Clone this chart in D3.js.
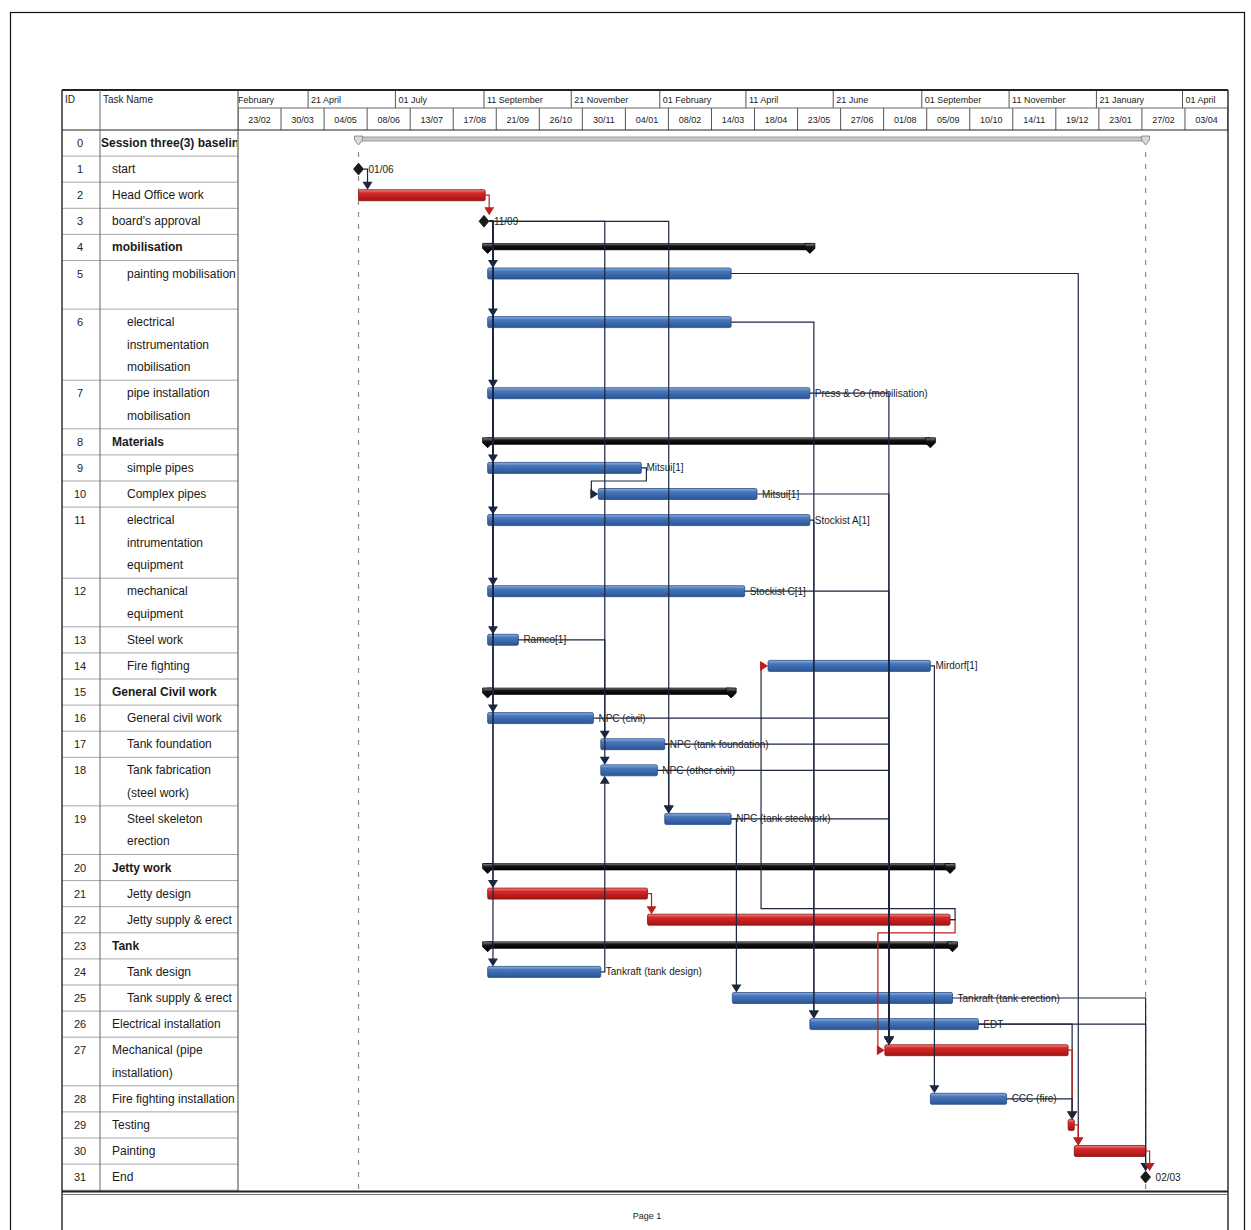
<!DOCTYPE html>
<html>
<head>
<meta charset="utf-8">
<title>Session three(3) baseline – Gantt</title>
<script src="https://cdnjs.cloudflare.com/ajax/libs/d3/7.8.5/d3.min.js"></script>
<style>
  html, body { margin: 0; padding: 0; background: #fff; }
  svg { display: block; font-family: "Liberation Sans", Arial, sans-serif; }
</style>
</head>
<body>
<svg id="chart" width="1251" height="1230"></svg>
<script>
// ---------- schedule data ----------
const taskNames = [
  ["Session three(3)  baseline"],
  ["start"],
  ["Head Office work"],
  ["board's approval"],
  ["mobilisation"],
  ["painting mobilisation", ""],
  ["electrical", "instrumentation", "mobilisation"],
  ["pipe installation", "mobilisation"],
  ["Materials"],
  ["simple pipes"],
  ["Complex pipes"],
  ["electrical", "intrumentation", "equipment"],
  ["mechanical", "equipment"],
  ["Steel work"],
  ["Fire fighting"],
  ["General Civil work"],
  ["General civil work"],
  ["Tank foundation"],
  ["Tank fabrication", "(steel work)"],
  ["Steel skeleton", "erection"],
  ["Jetty work"],
  ["Jetty design"],
  ["Jetty supply & erect"],
  ["Tank"],
  ["Tank design"],
  ["Tank supply & erect"],
  ["Electrical installation"],
  ["Mechanical (pipe", "installation)"],
  ["Fire fighting installation"],
  ["Testing"],
  ["Painting"],
  ["End"]
];

const taskLevels = [0,1,1,1,1,2,2,2,1,2,2,2,2,2,2,1,2,2,2,2,1,2,2,1,2,2,1,1,1,1,1,1];

const taskTypes = [
  "project","milestone","task","milestone","summary","task","task","task",
  "summary","task","task","task","task","task","task",
  "summary","task","task","task","task",
  "summary","task","task",
  "summary","task","task",
  "task","task","task","task","task","milestone"
];

const taskCritical = [
  false,false,true,false,false,false,false,false,
  false,false,false,false,false,false,false,
  false,false,false,false,false,
  false,true,true,
  false,false,false,
  false,true,false,true,true,false
];

const taskStart = [
  "2015-06-01","2015-06-01","2015-06-01","2015-09-11","2015-09-14","2015-09-14","2015-09-14","2015-09-14",
  "2015-09-14","2015-09-14","2015-12-13","2015-09-14","2015-09-14","2015-09-14","2016-04-29",
  "2015-09-14","2015-09-14","2015-12-15","2015-12-15","2016-02-05",
  "2015-09-14","2015-09-14","2016-01-22",
  "2015-09-14","2015-09-14","2016-03-31",
  "2016-06-02","2016-08-02","2016-09-08","2016-12-29","2017-01-03","2017-03-02"
];

const taskEnd = [
  "2017-03-02","2015-06-01","2015-09-12","2015-09-11","2016-06-02","2016-03-30","2016-03-30","2016-06-02",
  "2016-09-08","2016-01-17","2016-04-20","2016-06-02","2016-04-10","2015-10-09","2016-09-08",
  "2016-03-30","2015-12-09","2016-02-05","2016-01-30","2016-03-30",
  "2016-09-24","2016-01-22","2016-09-24",
  "2016-09-26","2015-12-15","2016-09-26",
  "2016-10-17","2016-12-29","2016-11-09","2017-01-03","2017-03-02","2017-03-02"
];

const resourceLabels = [
  "","","","","","","","Press & Co (mobilisation)",
  "","Mitsui[1]","Mitsui[1]","Stockist A[1]","Stockist C[1]","Ramco[1]","Mirdorf[1]",
  "","NPC (civil)","NPC (tank foundation)","NPC (other civil)","NPC (tank steelwork)",
  "","","",
  "","Tankraft (tank design)","Tankraft (tank erection)",
  "EDT","","CCC (fire)","","",""
];

// predecessor, successor, critical path flag
const links = [
  [1,2,0],[2,3,1],
  [3,5,0],[3,6,0],[3,7,0],[3,9,0],[3,11,0],[3,12,0],[3,13,0],[3,16,0],[3,17,0],[3,19,0],[3,21,0],[3,24,0],
  [9,10,0],[13,18,0],[17,19,0],[24,18,0],[19,25,0],
  [21,22,1],[22,27,1],[22,14,0],
  [5,30,0],[6,26,0],[11,26,0],
  [7,27,0],[10,27,0],[12,27,0],[16,27,0],[17,27,0],[18,27,0],[19,27,0],
  [14,28,0],[26,29,0],[27,29,1],[28,29,0],[29,30,1],
  [25,31,0],[26,31,0],[30,31,1]
];

// timescale tiers
const topTierDates = [
  "2015-02-11","2015-04-21","2015-07-01","2015-09-11","2015-11-21","2016-02-01",
  "2016-04-11","2016-06-21","2016-09-01","2016-11-11","2017-01-21","2017-04-01","2017-06-11"
];
const bottomTierDates = [
  "2015-02-23","2015-03-30","2015-05-04","2015-06-08","2015-07-13","2015-08-17","2015-09-21",
  "2015-10-26","2015-11-30","2016-01-04","2016-02-08","2016-03-14","2016-04-18","2016-05-23",
  "2016-06-27","2016-08-01","2016-09-05","2016-10-10","2016-11-14","2016-12-19","2017-01-23",
  "2017-02-27","2017-04-03"
];
const timescaleEnd = "2017-05-08";
const pageLabel = "Page 1";

// ---------- layout ----------
const G = {
  left: 62, idRight: 100, nameRight: 238, right: 1228,
  top: 90, tierSplit: 108, headBottom: 130, bodyBottom: 1191, pageBottom: 1230
};
const ROW_H = 26.1, LINE_H = 22.5;

const parse = d3.timeParse("%Y-%m-%d");
const fmtDayMonth = d3.timeFormat("%d/%m");
const fmtTopTier = d3.timeFormat("%d %B");

const x = d3.scaleTime()
  .domain([parse(bottomTierDates[0]), parse(timescaleEnd)])
  .range([G.nameRight, G.right]);

let acc = G.headBottom;
const rows = taskNames.map((lines, i) => {
  const h = ROW_H + (lines.length - 1) * LINE_H;
  const r = { i, top: acc, h, cy: acc + 13, lines };
  acc += h;
  return r;
});

const svg = d3.select("#chart");
const defs = svg.append("defs");

function grad(id, stops) {
  const g = defs.append("linearGradient").attr("id", id)
    .attr("x1", 0).attr("y1", 0).attr("x2", 0).attr("y2", 1);
  stops.forEach(([o, c]) => g.append("stop").attr("offset", o).attr("stop-color", c));
}
grad("gBlue", [[0, "#8fb2e0"], [0.3, "#4777bb"], [1, "#2a5595"]]);
grad("gRed", [[0, "#ef8d8d"], [0.3, "#d62828"], [1, "#a31414"]]);
grad("gSum", [[0, "#8a8a8a"], [0.35, "#151515"], [1, "#000"]]);

defs.append("clipPath").attr("id", "clipScale")
  .append("rect").attr("x", G.nameRight).attr("y", G.top).attr("width", G.right - G.nameRight).attr("height", G.headBottom - G.top);
defs.append("clipPath").attr("id", "clipName")
  .append("rect").attr("x", G.idRight).attr("y", G.headBottom).attr("width", G.nameRight - G.idRight - 1).attr("height", G.bodyBottom - G.headBottom);

// page frame
svg.append("rect").attr("x", 10.5).attr("y", 12.5).attr("width", 1234).attr("height", 1240)
  .attr("fill", "none").attr("stroke", "#111").attr("stroke-width", 1.2);

// ---------- left table ----------
const table = svg.append("g");
table.selectAll("line.rowsep").data(rows).join("line")
  .attr("class", "rowsep")
  .attr("x1", G.left).attr("x2", G.nameRight)
  .attr("y1", d => d.top + d.h).attr("y2", d => d.top + d.h)
  .attr("stroke", "#a5a5a5").attr("stroke-width", 1);

table.selectAll("text.id").data(rows).join("text")
  .attr("class", "id")
  .attr("x", (G.left + G.idRight) / 2 - 1).attr("y", d => d.cy)
  .attr("text-anchor", "middle").attr("dominant-baseline", "central")
  .attr("font-size", 11).attr("fill", "#222")
  .text(d => d.i);

const nameG = table.append("g").attr("clip-path", "url(#clipName)");
rows.forEach(r => {
  const lvl = taskLevels[r.i];
  const t = taskTypes[r.i];
  const bold = t === "summary" || t === "project";
  const tx = lvl === 0 ? 101 : lvl === 1 ? 112 : 127;
  r.lines.forEach((ln, k) => {
    if (!ln) return;
    nameG.append("text")
      .attr("x", tx).attr("y", r.cy + k * LINE_H)
      .attr("dominant-baseline", "central")
      .attr("font-size", lvl === 0 ? 12 : 12)
      .attr("font-weight", bold ? "bold" : "normal")
      .attr("fill", "#1a1a1a")
      .text(ln);
  });
});

// ---------- timescale header ----------
const head = svg.append("g");
head.append("text").attr("x", 65).attr("y", 103).attr("font-size", 10).attr("fill", "#222").text("ID");
head.append("text").attr("x", 103).attr("y", 103).attr("font-size", 10).attr("fill", "#222").text("Task Name");

const scaleG = head.append("g").attr("clip-path", "url(#clipScale)");
const topDates = topTierDates.map(parse);
scaleG.selectAll("line.tt").data(topDates).join("line")
  .attr("x1", d => x(d)).attr("x2", d => x(d))
  .attr("y1", G.top).attr("y2", G.tierSplit)
  .attr("stroke", "#555");
scaleG.selectAll("text.tt").data(topDates.slice(0, -1)).join("text")
  .attr("x", d => x(d) + 3).attr("y", 103)
  .attr("font-size", 9).attr("fill", "#222")
  .text(d => fmtTopTier(d));

const botDates = bottomTierDates.map(parse).concat([parse(timescaleEnd)]);
scaleG.selectAll("line.bt").data(botDates).join("line")
  .attr("x1", d => x(d)).attr("x2", d => x(d))
  .attr("y1", G.tierSplit).attr("y2", G.headBottom)
  .attr("stroke", "#555");
scaleG.selectAll("text.bt").data(botDates.slice(0, -1)).join("text")
  .attr("x", (d, i) => (x(d) + x(botDates[i + 1])) / 2).attr("y", 123)
  .attr("text-anchor", "middle")
  .attr("font-size", 9).attr("fill", "#222")
  .text(d => fmtDayMonth(d));

// frame lines
const frame = svg.append("g").attr("stroke", "#222").attr("fill", "none");
frame.append("line").attr("x1", G.left).attr("x2", G.right).attr("y1", G.top).attr("y2", G.top).attr("stroke-width", 2);
frame.append("line").attr("x1", G.left).attr("x2", G.right).attr("y1", G.headBottom).attr("y2", G.headBottom);
frame.append("line").attr("x1", G.nameRight).attr("x2", G.right).attr("y1", G.tierSplit).attr("y2", G.tierSplit).attr("stroke", "#666");
frame.append("line").attr("x1", G.left).attr("x2", G.left).attr("y1", G.top).attr("y2", G.pageBottom).attr("stroke-width", 1.4);
frame.append("line").attr("x1", G.right).attr("x2", G.right).attr("y1", G.top).attr("y2", G.pageBottom).attr("stroke-width", 1.4);
frame.append("line").attr("x1", G.idRight).attr("x2", G.idRight).attr("y1", G.top).attr("y2", G.bodyBottom).attr("stroke", "#666");
frame.append("line").attr("x1", G.nameRight).attr("x2", G.nameRight).attr("y1", G.top).attr("y2", G.bodyBottom).attr("stroke", "#444");
frame.append("line").attr("x1", G.left).attr("x2", G.right).attr("y1", G.bodyBottom + 0.5).attr("y2", G.bodyBottom + 0.5).attr("stroke-width", 2);
frame.append("line").attr("x1", G.left).attr("x2", G.right).attr("y1", G.bodyBottom + 3.5).attr("y2", G.bodyBottom + 3.5).attr("stroke", "#777");

svg.append("text").attr("x", (G.left + G.right) / 2 + 2).attr("y", 1219)
  .attr("text-anchor", "middle").attr("font-size", 9).attr("fill", "#222").text(pageLabel);

// ---------- chart body ----------
const body = svg.append("g");
const projStart = parse(taskStart[0]), projEnd = parse(taskEnd[0]);

// project start / finish guides
body.selectAll("line.guide").data([projStart, projEnd]).join("line")
  .attr("x1", d => x(d)).attr("x2", d => x(d))
  .attr("y1", rows[0].top + rows[0].h - 4).attr("y2", G.bodyBottom)
  .attr("stroke", "#8a8a8a").attr("stroke-width", 1.2).attr("stroke-dasharray", "5,7");

function startX(i) { const v = x(parse(taskStart[i])); return taskTypes[i] === "milestone" ? v - 4 : v; }
function endX(i) { const v = x(parse(taskEnd[i])); return taskTypes[i] === "milestone" ? v + 5 : v; }
function topY(i) { const t = taskTypes[i]; return rows[i].cy - (t === "milestone" ? 6 : t === "summary" ? 4 : 5.5); }
function botY(i) { const t = taskTypes[i]; return rows[i].cy + (t === "milestone" ? 6 : t === "summary" ? 6 : 5.5); }

function sumCap(g, cx, cy, fill, stroke) {
  g.append("path")
    .attr("d", `M${cx - 5},${cy - 4}L${cx + 5},${cy - 4}L${cx + 5},${cy + 1}L${cx},${cy + 6}L${cx - 5},${cy + 1}Z`)
    .attr("fill", fill).attr("stroke", stroke).attr("stroke-width", 0.8);
}

const bars = body.append("g");
taskTypes.forEach((t, i) => {
  const cy = rows[i].cy;
  const x0 = x(parse(taskStart[i])), x1 = x(parse(taskEnd[i]));
  if (t === "project") {
    bars.append("rect").attr("x", x0).attr("y", cy - 6).attr("width", x1 - x0).attr("height", 4)
      .attr("fill", "#c9c9c9").attr("stroke", "#888").attr("stroke-width", 0.8);
    [x0, x1].forEach(cx => bars.append("path")
      .attr("d", `M${cx - 4},${cy - 7}L${cx + 4},${cy - 7}L${cx + 4},${cy - 3}L${cx},${cy + 2}L${cx - 4},${cy - 3}Z`)
      .attr("fill", "#d8d8d8").attr("stroke", "#7d7d7d").attr("stroke-width", 0.8));
  } else if (t === "summary") {
    bars.append("rect").attr("x", x0).attr("y", cy - 4).attr("width", x1 - x0).attr("height", 6.5)
      .attr("fill", "url(#gSum)").attr("stroke", "#000").attr("stroke-width", 0.6);
    sumCap(bars, x0, cy, "url(#gSum)", "#000");
    sumCap(bars, x1, cy, "url(#gSum)", "#000");
  } else if (t === "milestone") {
    bars.append("path")
      .attr("d", `M${x0},${cy - 6}L${x0 + 5},${cy}L${x0},${cy + 6}L${x0 - 5},${cy}Z`)
      .attr("fill", "#1b1b1b").attr("stroke", "#000").attr("stroke-width", 0.6);
  } else {
    const crit = taskCritical[i];
    bars.append("rect").attr("x", x0).attr("y", cy - 5.5).attr("width", Math.max(2, x1 - x0)).attr("height", 11)
      .attr("rx", 1.5)
      .attr("fill", crit ? "url(#gRed)" : "url(#gBlue)")
      .attr("stroke", crit ? "#8e1212" : "#2a4f86").attr("stroke-width", 0.8);
  }
});

// resource and date labels
const labels = body.append("g").attr("font-size", 10).attr("fill", "#1a1a1a");
taskTypes.forEach((t, i) => {
  const cy = rows[i].cy;
  if (t === "milestone") {
    labels.append("text").attr("x", x(parse(taskStart[i])) + 10).attr("y", cy)
      .attr("dominant-baseline", "central").text(fmtDayMonth(parse(taskStart[i])));
  } else if (resourceLabels[i]) {
    labels.append("text").attr("x", endX(i) + 5).attr("y", cy)
      .attr("dominant-baseline", "central").text(resourceLabels[i]);
  }
});

// dependency links
const linkG = body.append("g").attr("fill", "none");
links.forEach(([p, s, crit]) => {
  const color = crit ? "#c01d1d" : "#1c2640";
  const pe = endX(p), ss = startX(s);
  const yp = rows[p].cy, ys = rows[s].cy;
  let d, arrow;
  if (ss >= pe - 6) {
    const vx = Math.max(ss + 4, pe + 4);
    if (s > p) {
      const ty = topY(s);
      d = `M${pe},${yp}H${vx}V${ty - 7}`;
      arrow = `M${vx - 5},${ty - 8}L${vx + 5},${ty - 8}L${vx},${ty}Z`;
    } else {
      const by = botY(s);
      d = `M${pe},${yp}H${vx}V${by + 7}`;
      arrow = `M${vx - 5},${by + 8}L${vx + 5},${by + 8}L${vx},${by}Z`;
    }
  } else {
    const yb = s > p ? rows[p].top + rows[p].h : rows[p].top + 2;
    d = `M${pe},${yp}H${pe + 5}V${yb}H${ss - 7}V${ys}H${ss - 7}`;
    arrow = `M${ss - 8},${ys - 5}L${ss - 8},${ys + 5}L${ss},${ys}Z`;
  }
  linkG.append("path").attr("d", d).attr("stroke", color).attr("stroke-width", 1.2);
  linkG.append("path").attr("d", arrow).attr("fill", s === 14 ? "#c01d1d" : color).attr("stroke", "none");
});
</script>
</body>
</html>
